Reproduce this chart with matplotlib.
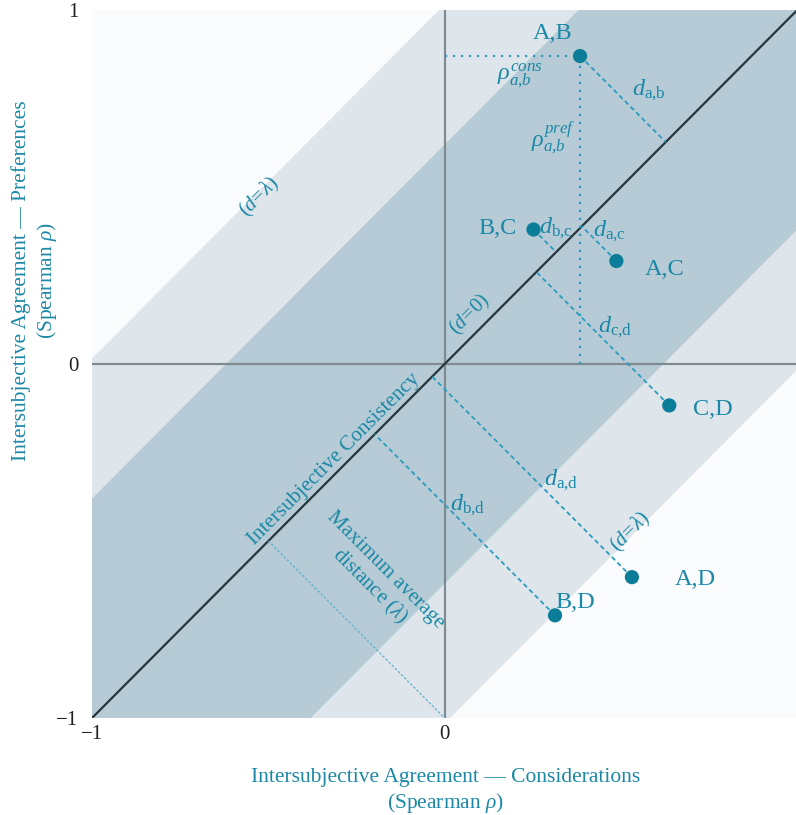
import matplotlib
matplotlib.use("Agg")
import matplotlib.pyplot as plt
import numpy as np

# pair coordinates: (considerations rho, preferences rho)
PAIRS = ["A,B", "B,C", "A,C", "C,D", "A,D", "B,D"]
RHO_CONS = [0.384, 0.252, 0.487, 0.637, 0.531, 0.313]
RHO_PREF = [0.870, 0.380, 0.291, -0.117, -0.602, -0.710]

# label offsets for each pair (data units)
PAIR_LABEL_OFFSET = {
    "A,B": (-0.079, 0.063),
    "B,C": (-0.102, 0.002),
    "A,C": (0.138, -0.025),
    "C,D": (0.125, -0.012),
    "A,D": (0.180, -0.006),
    "B,D": (0.058, 0.036),
}
DIST_LABELS = {
    "A,B": (r"$d_{\mathrm{a{,}b}}$", (0.580, 0.772)),
    "B,C": (r"$d_{\mathrm{b{,}c}}$", (0.316, 0.383)),
    "A,C": (r"$d_{\mathrm{a{,}c}}$", (0.466, 0.376)),
    "C,D": (r"$d_{\mathrm{c{,}d}}$", (0.483, 0.104)),
    "A,D": (r"$d_{\mathrm{a{,}d}}$", (0.330, -0.330)),
    "B,D": (r"$d_{\mathrm{b{,}d}}$", (0.066, -0.398)),
}

X_TICKS = [-1, 0]
Y_TICKS = [-1, 0, 1]

DARK_HALF = 0.62   # inner band |y - x|
LIGHT_HALF = 1.02  # outer band |y - x| (lambda)

TEAL = "#1a88a6"
POINT = "#0b7d99"
LINE = "#2b9bc0"
DARK_BAND = "#b6cbd6"
LIGHT_BAND = "#dee6eb"
OUTER = "#fafbfc"
AXIS_GRAY = "#7f8b91"
DIAG = "#26363b"

plt.rcParams["font.family"] = ["Liberation Serif", "DejaVu Serif"]
plt.rcParams["mathtext.fontset"] = "custom"
plt.rcParams["mathtext.rm"] = "Liberation Serif"
plt.rcParams["mathtext.it"] = "Liberation Serif:italic"
plt.rcParams["mathtext.bf"] = "Liberation Serif:bold"

fig = plt.figure(figsize=(7.96, 8.15), dpi=100)
ax = fig.add_axes([0.1156, 0.119, 0.886, 0.8687])
ax.set_facecolor(OUTER)
ax.set_xlim(-1, 1.0)
ax.set_ylim(-1, 1)
for s in ax.spines.values():
    s.set_visible(False)

# bands around the identity line
xs = np.array([-1.0, 1.0])
ax.fill_between(xs, xs - LIGHT_HALF, xs + LIGHT_HALF, color=LIGHT_BAND, lw=0, zorder=0)
ax.fill_between(xs, xs - DARK_HALF, xs + DARK_HALF, color=DARK_BAND, lw=0, zorder=0.5)
for sgn in (-1, 1):
    ax.plot(xs, xs + sgn * LIGHT_HALF, color="white", lw=1.6, alpha=0.8, zorder=0.6)

# zero axes and identity line
ax.axhline(0, color=AXIS_GRAY, lw=1.6, zorder=1)
ax.axvline(0, color=AXIS_GRAY, lw=1.6, zorder=1)
ax.plot([-1, 1], [-1, 1], color=DIAG, lw=1.6, zorder=2)

# projections of A,B onto both axes
x_ab, y_ab = RHO_CONS[0], RHO_PREF[0]
ax.plot([0, x_ab], [y_ab, y_ab], color=LINE, lw=1.6, ls=(0, (1, 2.6)), zorder=3)
ax.plot([x_ab, x_ab], [0, y_ab], color=LINE, lw=1.6, ls=(0, (1, 2.6)), zorder=3)

# perpendicular distances to the identity line
for x0, y0 in zip(RHO_CONS, RHO_PREF):
    f = (x0 + y0) / 2
    ax.plot([x0, f], [y0, f], color=LINE, lw=1.3, ls=(0, (2.6, 1.8)), zorder=3)

# maximum average distance (lambda)
ax.plot([-0.5, 0.0], [-0.5, -1.0], color="#5ab0d0", lw=0.9, ls=(0, (2, 1.5)), zorder=3)

ax.scatter(RHO_CONS, RHO_PREF, s=105, color=POINT, edgecolor="none", zorder=5)

for name, x0, y0 in zip(PAIRS, RHO_CONS, RHO_PREF):
    dx, dy = PAIR_LABEL_OFFSET[name]
    ax.text(x0 + dx, y0 + dy, name, color=TEAL, fontsize=17.5, ha="center", va="center")

for name, (txt, (tx, ty)) in DIST_LABELS.items():
    ax.text(tx, ty, txt, color=TEAL, fontsize=17.5, ha="center", va="center")

ax.text(0.213, 0.815, r"$\rho^{cons}_{a{,}b}$", color=TEAL, fontsize=17.5, ha="center", va="center")
ax.text(0.307, 0.636, r"$\rho^{pref}_{a{,}b}$", color=TEAL, fontsize=17.5, ha="center", va="center")

ax.text(-0.526, 0.472, r"$(d\!=\!\lambda)$", color=TEAL, fontsize=15, rotation=45,
        ha="center", va="center", rotation_mode="anchor")
ax.text(0.526, -0.475, r"$(d\!=\!\lambda)$", color=TEAL, fontsize=15, rotation=45,
        ha="center", va="center", rotation_mode="anchor")
ax.text(0.071, 0.138, r"$(d\!=\!0)$", color=TEAL, fontsize=15, rotation=45,
        ha="center", va="center", rotation_mode="anchor")
ax.text(-0.314, -0.268, "Intersubjective Consistency", color=TEAL, fontsize=15.2,
        rotation=45, ha="center", va="center", rotation_mode="anchor")
ax.text(-0.193, -0.607, "Maximum average\ndistance $(\\lambda)$", color=TEAL, fontsize=15,
        rotation=-45, ha="center", va="center", rotation_mode="anchor",
        multialignment="center", linespacing=1.05)

ax.set_xticks(X_TICKS)
ax.set_xticklabels(["\u22121" if v == -1 else str(v) for v in X_TICKS])
ax.set_yticks(Y_TICKS)
ax.set_yticklabels(["\u22121" if v == -1 else str(v) for v in Y_TICKS])
ax.tick_params(length=0, labelsize=15, colors="#231f20")
ax.tick_params(axis="x", pad=5)
ax.tick_params(axis="y", pad=10)

fig.text(0.560, 0.029, "Intersubjective Agreement \u2014 Considerations\n(Spearman $\\rho$)",
         color=TEAL, fontsize=15.5, ha="center", va="center", linespacing=1.25)
fig.text(0.044, 0.656, "Intersubjective Agreement \u2014 Preferences\n(Spearman $\\rho$)",
         color=TEAL, fontsize=15.5, ha="center", va="center", rotation=90, linespacing=1.25)

fig.savefig("out.png", dpi=100)
